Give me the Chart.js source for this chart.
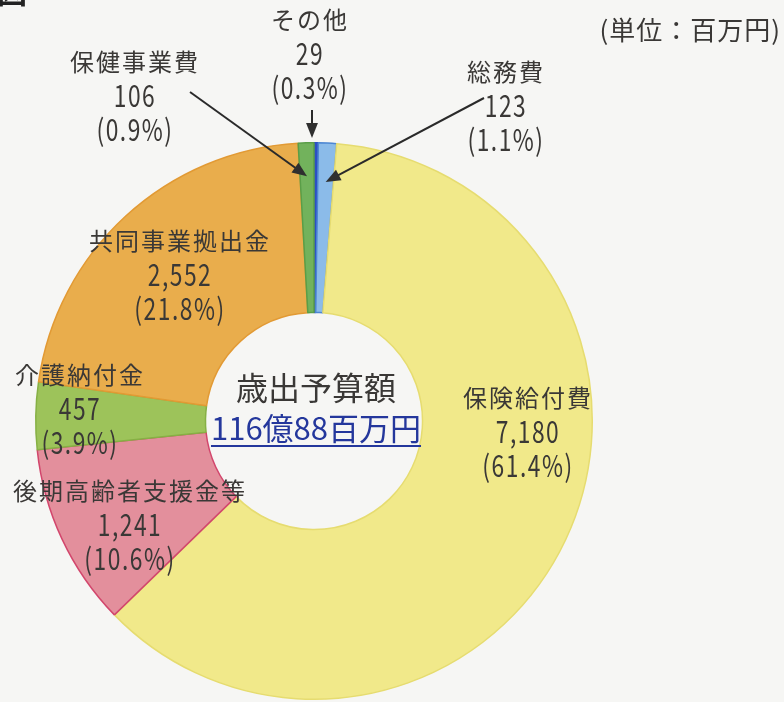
<!DOCTYPE html>
<html>
<head>
<meta charset="utf-8">
<script src="https://cdn.jsdelivr.net/npm/chart.js@4.4.0/dist/chart.umd.min.js"></script>
<style>
  html, body { margin: 0; padding: 0; background: #f6f6f4; }
  #wrap { width: 784px; height: 702px; position: relative; }
</style>
</head>
<body>
<div id="wrap"><canvas id="chart" width="784" height="702"></canvas></div>
<script>
// budget breakdown, clockwise from 12 o'clock (unit: million yen)
const categories = ['その他', '総務費', '保険給付費', '後期高齢者支援金等', '介護納付金', '共同事業拠出金', '保健事業費'];
const amounts = [29, 123, 7180, 1241, 457, 2552, 106];
const amountLabels = ['29', '123', '7,180', '1,241', '457', '2,552', '106'];
const shareLabels = ['(0.3%)', '(1.1%)', '(61.4%)', '(10.6%)', '(3.9%)', '(21.8%)', '(0.9%)'];
const centerTitle = '歳出予算額';
const centerTotal = '116億88百万円';
const unitLabel = '(単位：百万円)';

const fills = ['#2c4fc4', '#8bbbe9', '#f1e98a', '#e38f9c', '#9dc35a', '#e9ad4c', '#72b25c'];
const edges = ['#2c4fc4', '#4c86d2', '#e6dc70', '#d2466c', '#86b044', '#e29a34', '#5a9e48'];

// label blocks: x, y of first line, arrow start and target (fraction of ring radius)
const labelLayout = [
  { x: 310, y: 20, arrow: { from: [null, 110], r: 1.01 } },
  { x: 506, y: 72, arrow: { from: [484, 98], r: 0.86 } },
  { x: 528, y: 398, arrow: null },
  { x: 130, y: 491, arrow: null },
  { x: 80, y: 375, arrow: null },
  { x: 180, y: 241, arrow: null },
  { x: 135, y: 62, arrow: { from: [190, 92], r: 0.88 } }
];
const lineGap = 34;
const textColor = '#3a3836';

function drawLine(ctx, text, x, y) {
  const cjk = /[^\x00-\x7f]/.test(text);
  ctx.save();
  ctx.translate(x, y);
  if (cjk) {
    ctx.font = '24px "Noto Sans CJK JP"';
    ctx.letterSpacing = '2px';
  } else {
    ctx.scale(0.76, 1);
    ctx.font = '30px "Noto Sans CJK JP"';
    ctx.letterSpacing = '2px';
  }
  ctx.fillText(text, 0, 0);
  ctx.restore();
}

function drawArrow(ctx, x1, y1, x2, y2) {
  const a = Math.atan2(y2 - y1, x2 - x1);
  const head = 16;
  ctx.beginPath();
  ctx.moveTo(x1, y1);
  ctx.lineTo(x2 - Math.cos(a) * head * 0.8, y2 - Math.sin(a) * head * 0.8);
  ctx.stroke();
  ctx.beginPath();
  ctx.moveTo(x2, y2);
  ctx.lineTo(x2 - head * Math.cos(a - 0.38), y2 - head * Math.sin(a - 0.38));
  ctx.lineTo(x2 - head * Math.cos(a + 0.38), y2 - head * Math.sin(a + 0.38));
  ctx.closePath();
  ctx.fill();
}

const labelPlugin = {
  id: 'labelPlugin',
  afterDraw(chart) {
    const ctx = chart.ctx;
    const arcs = chart.getDatasetMeta(0).data;
    ctx.save();
    ctx.fillStyle = textColor;
    ctx.strokeStyle = '#2a2a2a';
    ctx.textAlign = 'center';
    ctx.textBaseline = 'middle';
    ctx.lineWidth = 2;

    categories.forEach((name, i) => {
      const lay = labelLayout[i];
      drawLine(ctx, name, lay.x, lay.y);
      drawLine(ctx, amountLabels[i], lay.x, lay.y + lineGap);
      drawLine(ctx, shareLabels[i], lay.x, lay.y + lineGap * 2);
      if (lay.arrow) {
        const arc = arcs[i];
        const mid = (arc.startAngle + arc.endAngle) / 2;
        const r = arc.outerRadius * lay.arrow.r;
        let tx = arc.x + Math.cos(mid) * r;
        let ty = arc.y + Math.sin(mid) * r;
        let fx = lay.arrow.from[0];
        if (fx === null) {
          // straight down onto the ring top
          fx = arc.x + Math.cos(arc.startAngle) * r - 2;
          tx = fx;
          ty = arc.y - r - 2;
        }
        ctx.fillStyle = '#2f2f2f';
        drawArrow(ctx, fx, lay.arrow.from[1], tx, ty);
        ctx.fillStyle = textColor;
      }
    });

    // unit note
    ctx.font = '26px "Noto Sans CJK JP"';
    ctx.letterSpacing = '1px';
    ctx.textAlign = 'right';
    ctx.fillText(unitLabel, 781, 30);
    ctx.letterSpacing = '0px';

    // cut-off heading glyph at the top-left corner
    ctx.font = 'bold 30px "Noto Sans CJK JP"';
    ctx.textAlign = 'left';
    ctx.fillStyle = '#222';
    ctx.fillText('図', -3, -8);

    // center text
    const c = arcs[0];
    ctx.textAlign = 'center';
    ctx.font = '32px "Noto Sans CJK JP"';
    ctx.fillStyle = '#3a3836';
    ctx.fillText(centerTitle, c.x + 2, c.y - 33);
    ctx.font = '31px "Noto Sans CJK JP"';
    ctx.fillStyle = '#24379c';
    ctx.fillText(centerTotal, c.x + 2, c.y + 7);
    const w = ctx.measureText(centerTotal).width;
    ctx.strokeStyle = '#24379c';
    ctx.lineWidth = 2;
    ctx.beginPath();
    ctx.moveTo(c.x + 2 - w / 2, c.y + 25);
    ctx.lineTo(c.x + 2 + w / 2, c.y + 25);
    ctx.stroke();
    ctx.restore();
  }
};

new Chart(document.getElementById('chart'), {
  type: 'doughnut',
  data: {
    labels: categories,
    datasets: [{
      data: amounts,
      backgroundColor: fills,
      borderColor: edges,
      borderWidth: 1.5
    }]
  },
  options: {
    responsive: false,
    animation: false,
    cutout: '39%',
    layout: { padding: { left: 35, right: 191, top: 142, bottom: 2 } },
    plugins: {
      legend: { display: false },
      tooltip: { enabled: false }
    }
  },
  plugins: [labelPlugin]
});
</script>
</body>
</html>
